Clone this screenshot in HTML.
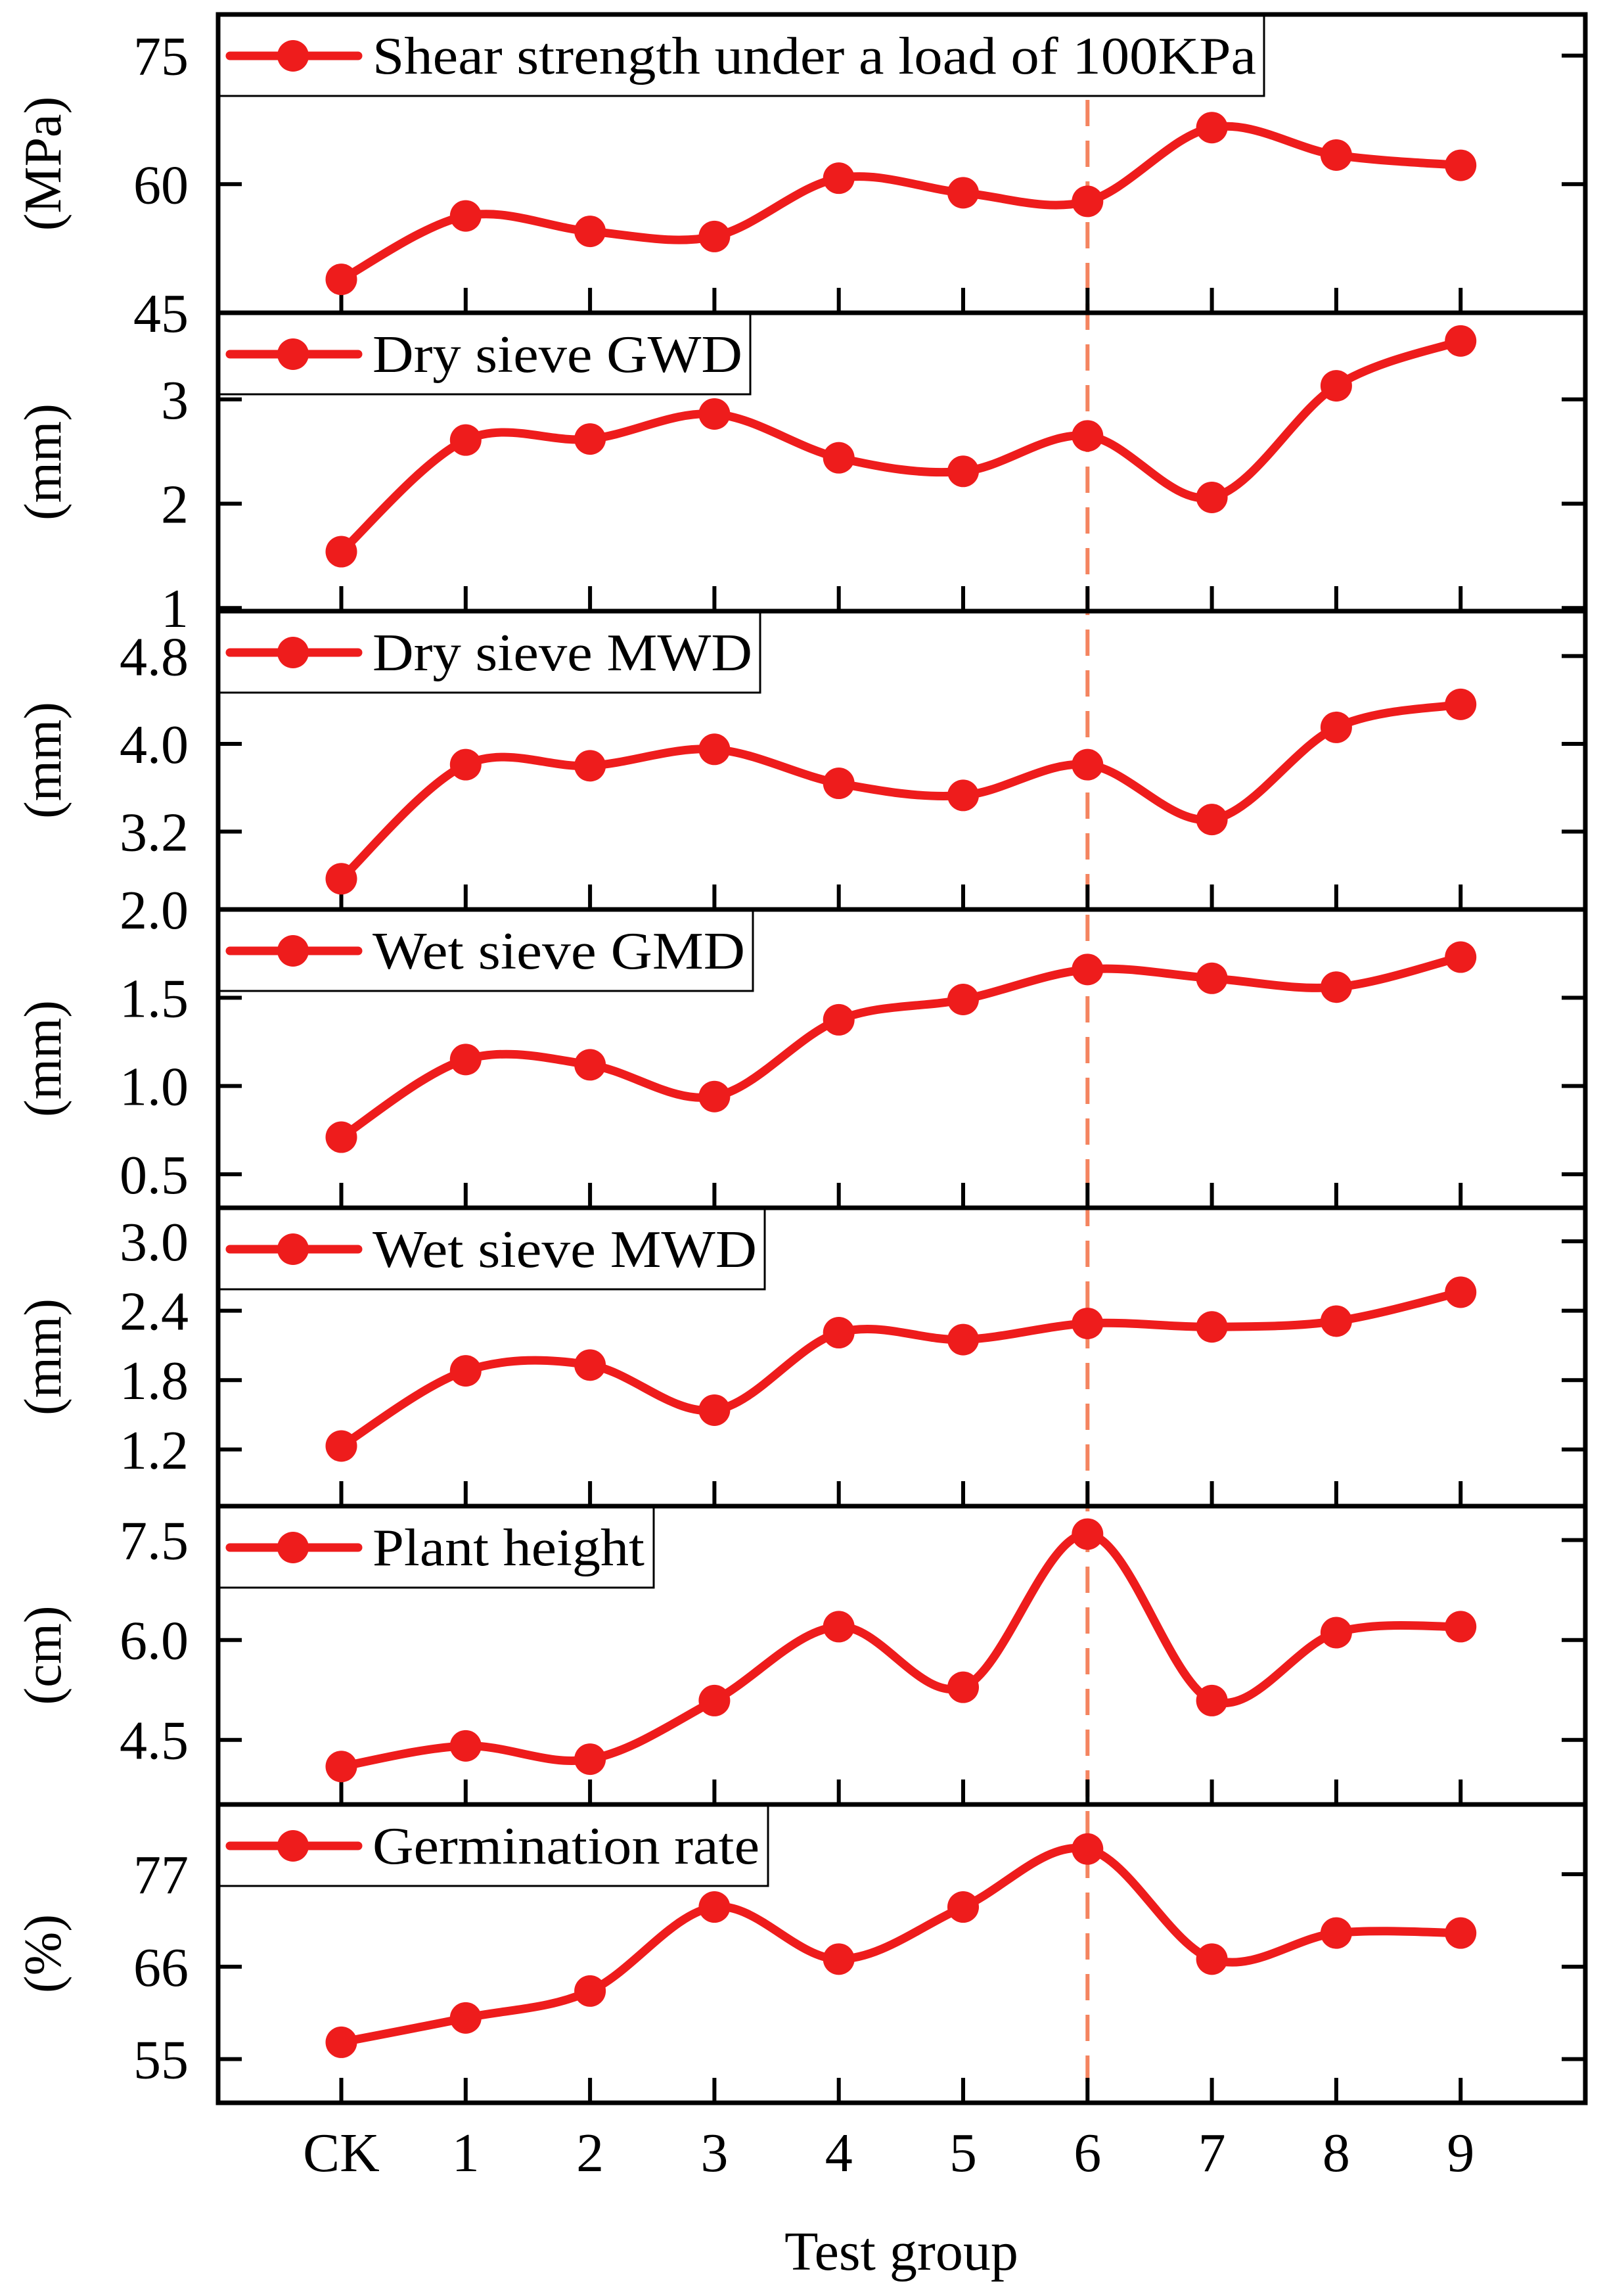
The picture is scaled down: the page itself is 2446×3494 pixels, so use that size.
<!DOCTYPE html>
<html><head><meta charset="utf-8"><style>
html,body{margin:0;padding:0;background:#fff;}
svg{display:block;}
text{font-family:"Liberation Serif","Times New Roman",serif;}
</style></head><body>
<svg id="chart" width="2446" height="3494" viewBox="0 0 2446 3494" xmlns="http://www.w3.org/2000/svg"></svg>
<script>
const categories = ["CK","1","2","3","4","5","6","7","8","9"];
const shearValues = [48.9,56.3,54.5,53.9,60.7,59.0,58.0,66.6,63.4,62.2];
const gwdValues = [1.54,2.61,2.62,2.86,2.44,2.31,2.65,2.06,3.13,3.56];
const dryMwdValues = [2.77,3.81,3.80,3.95,3.64,3.53,3.81,3.31,4.15,4.36];
const gmdValues = [0.71,1.15,1.12,0.94,1.375,1.49,1.66,1.61,1.56,1.73];
const wetMwdValues = [1.23,1.88,1.93,1.54,2.21,2.15,2.29,2.26,2.31,2.56];
const heightValues = [4.10,4.41,4.21,5.09,6.2,5.29,7.59,5.09,6.11,6.2];
const germValues = [57.0,59.9,63.1,73.1,66.9,73.1,80.0,66.9,70.0,70.0];
const shearTicks = ["75","60","45"];
const gwdTicks = ["3","2","1"];
const dryMwdTicks = ["4.8","4.0","3.2"];
const gmdTicks = ["2.0","1.5","1.0","0.5"];
const wetMwdTicks = ["3.0","2.4","1.8","1.2"];
const heightTicks = ["7.5","6.0","4.5"];
const germTicks = ["77","66","55"];
const highlightIndex = 6;

const panels = [
 {name:"shear",label:"Shear strength under a load of 100KPa",unit:"(MPa)",vals:shearValues,ticks:shearTicks,min:45,max:79.8,legW:1590,txtW:1345},
 {name:"dry-gwd",label:"Dry sieve GWD",unit:"(mm)",vals:gwdValues,ticks:gwdTicks,min:0.97,max:3.83,legW:808,txtW:563},
 {name:"dry-mwd",label:"Dry sieve MWD",unit:"(mm)",vals:dryMwdValues,ticks:dryMwdTicks,min:2.49,max:5.21,legW:823,txtW:578},
 {name:"wet-gmd",label:"Wet sieve GMD",unit:"(mm)",vals:gmdValues,ticks:gmdTicks,min:0.31,max:2.0,legW:812,txtW:567},
 {name:"wet-mwd",label:"Wet sieve MWD",unit:"(mm)",vals:wetMwdValues,ticks:wetMwdTicks,min:0.71,max:3.29,legW:830,txtW:585},
 {name:"plant-height",label:"Plant height",unit:"(cm)",vals:heightValues,ticks:heightTicks,min:3.53,max:8.01,legW:661,txtW:414},
 {name:"germination",label:"Germination rate",unit:"(%)",vals:germValues,ticks:germTicks,min:49.8,max:85.3,legW:835,txtW:589}
];
const NS="http://www.w3.org/2000/svg";
const svg=document.getElementById('chart');
const L=332,R=2413,T=22,PH=454;
const RED="#ee1c1c";
const FONT='"Liberation Serif","Times New Roman",serif';
function xPos(i){return 519.5+i*189.3;}
function mk(tag,attrs,parent){const e=document.createElementNS(NS,tag);for(const k in attrs)e.setAttribute(k,attrs[k]);if(tag==='text')e.setAttribute('font-family',FONT);(parent||svg).appendChild(e);return e;}
function smooth(pts){let d="M"+pts[0][0]+","+pts[0][1];for(let i=0;i<pts.length-1;i++){const p0=pts[i-1]||pts[i],p1=pts[i],p2=pts[i+1],p3=pts[i+2]||p2;const c1=[p1[0]+(p2[0]-p0[0])/6,p1[1]+(p2[1]-p0[1])/6];const c2=[p2[0]-(p3[0]-p1[0])/6,p2[1]-(p3[1]-p1[1])/6];d+=" C"+c1[0]+","+c1[1]+" "+c2[0]+","+c2[1]+" "+p2[0]+","+p2[1];}return d;}

// dashed highlight line (drawn first so legends cover it)
const dl=mk('line',{x1:xPos(highlightIndex),x2:xPos(highlightIndex),y1:90,y2:3170,stroke:'#f4845f','stroke-width':6,'stroke-dasharray':'40,22'});



panels.forEach((p,pi)=>{
 const top=T+pi*PH,bot=top+PH;
 const y=v=>bot-(v-p.min)/(p.max-p.min)*PH;
 const g=mk('g',{});
 
 
 categories.forEach((c,i)=>{const t=mk('line',{x1:xPos(i),x2:xPos(i),y1:bot,y2:bot-38,stroke:'#000','stroke-width':6},g);
  
  });
 p.ticks.forEach(tl=>{const v=parseFloat(tl);const yy=y(v);
  if(Math.abs(yy-bot)>3&&Math.abs(yy-top)>3){
   const a=mk('line',{x1:L,x2:L+36,y1:yy,y2:yy,stroke:'#000','stroke-width':6},g);
   
   
   const b=mk('line',{x1:R-36,x2:R,y1:yy,y2:yy,stroke:'#000','stroke-width':6},g);
   
   }
  const tx=mk('text',{x:287,y:yy+29,'text-anchor':'end','font-size':84},g);tx.textContent=tl;
  
  });
 const ut=mk('text',{x:0,y:0,'text-anchor':'middle','font-size':80,transform:'translate(92,'+(top+PH/2)+') rotate(-90)'},g);
 ut.textContent=p.unit;
 
 
 const lg=mk('g',{},g);
 
 
 mk('rect',{x:L+2,y:top+2,width:p.legW,height:122,fill:'#fff',stroke:'#000','stroke-width':3},lg);
 mk('line',{x1:350,x2:545,y1:top+63,y2:top+63,stroke:RED,'stroke-width':13,'stroke-linecap':'round'},lg);
 mk('circle',{cx:446,cy:top+63,r:24,fill:RED},lg);
 const lt=mk('text',{x:567,y:top+90,'font-size':80,textLength:p.txtW,lengthAdjust:'spacingAndGlyphs'},lg);lt.textContent=p.label;
 const pts=p.vals.map((v,i)=>[xPos(i),y(v)]);
 const ln=mk('path',{d:smooth(pts),fill:'none',stroke:RED,'stroke-width':13,'stroke-linejoin':'round'},g);
 
 
 pts.forEach(pt=>{const c=mk('circle',{cx:pt[0],cy:pt[1],r:24,fill:RED},g);
  
  });
 const fr=mk('rect',{x:L,y:top,width:R-L,height:PH,fill:'none',stroke:'#000','stroke-width':7},g);
 
 
});
categories.forEach((c,i)=>{const t=mk('text',{x:xPos(i),y:3304,'text-anchor':'middle','font-size':84});t.textContent=c;
 
 });
const xt=mk('text',{x:1372,y:3454,'text-anchor':'middle','font-size':84});xt.textContent="Test group";


</script>
</body></html>
